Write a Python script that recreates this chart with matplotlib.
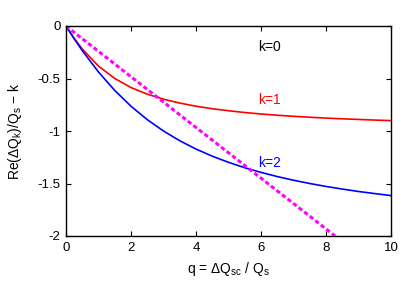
import matplotlib
matplotlib.use("Agg")
import matplotlib.pyplot as plt

plt.rcParams['font.family'] = ['Liberation Sans', 'DejaVu Sans']
plt.rcParams['mathtext.fontset'] = 'custom'
plt.rcParams['mathtext.rm'] = 'Liberation Sans'
plt.rcParams['mathtext.it'] = 'Liberation Sans'
plt.rcParams['mathtext.default'] = 'regular'

q = [0, 0.25, 0.5, 1, 1.5, 2, 2.5, 3, 3.5, 4, 4.5, 5, 5.5, 6, 6.5, 7, 7.5, 8, 8.5, 9, 9.5, 10]
k1 = [0, -0.117, -0.219, -0.382, -0.5, -0.586, -0.649, -0.697, -0.734, -0.764, -0.788,
      -0.807, -0.824, -0.838, -0.850, -0.860, -0.869, -0.877, -0.884, -0.890, -0.896, -0.901]
k2 = [0, -0.121, -0.234, -0.438, -0.614, -0.764, -0.892, -1.0, -1.093, -1.172, -1.240,
      -1.298, -1.350, -1.394, -1.434, -1.469, -1.5, -1.528, -1.553, -1.576, -1.596, -1.615]
line_q = [0, 8.28]
line_y = [0, -2.0]

xticks = [0, 2, 4, 6, 8, 10]
yticks = [0, -0.5, -1, -1.5, -2]
ytick_labels = ['0', '-0.5', '-1', '-1.5', '-2']

fig = plt.figure(figsize=(4.15, 2.9), dpi=100)
ax = fig.add_axes([66/415, 54/290, 325/415, 210/290])

ax.plot(q, k1, color='#ff0000', lw=1.2)
ax.plot(q, k2, color='#0000ff', lw=1.2)
ax.plot(line_q, line_y, color='#ff00ff', lw=2.2, dashes=(1.4, 0.9))

ax.set_xlim(0, 10)
ax.set_ylim(-2, 0)
ax.set_xticks(xticks)
ax.set_yticks(yticks)
ax.set_yticklabels(ytick_labels)
ax.tick_params(direction='in', length=3.5, width=0.8, top=True, right=True,
               labelsize=9.5, pad=4, colors='black')
for s in ax.spines.values():
    s.set_linewidth(1.0)

ax.set_xlabel('q = ΔQ$_{sc}$ / Q$_s$', fontsize=10, labelpad=5)
ax.set_ylabel('Re(ΔQ$_k$)/Q$_s$ − k', fontsize=10, labelpad=10)

ax.text(5.9, -0.2, 'k=0', color='black', fontsize=10, va='center', ha='left')
ax.text(5.9, -0.705, 'k=1', color='#ff0000', fontsize=10, va='center', ha='left')
ax.text(5.9, -1.305, 'k=2', color='#0000ff', fontsize=10, va='center', ha='left')

fig.savefig('out.png', dpi=100)
